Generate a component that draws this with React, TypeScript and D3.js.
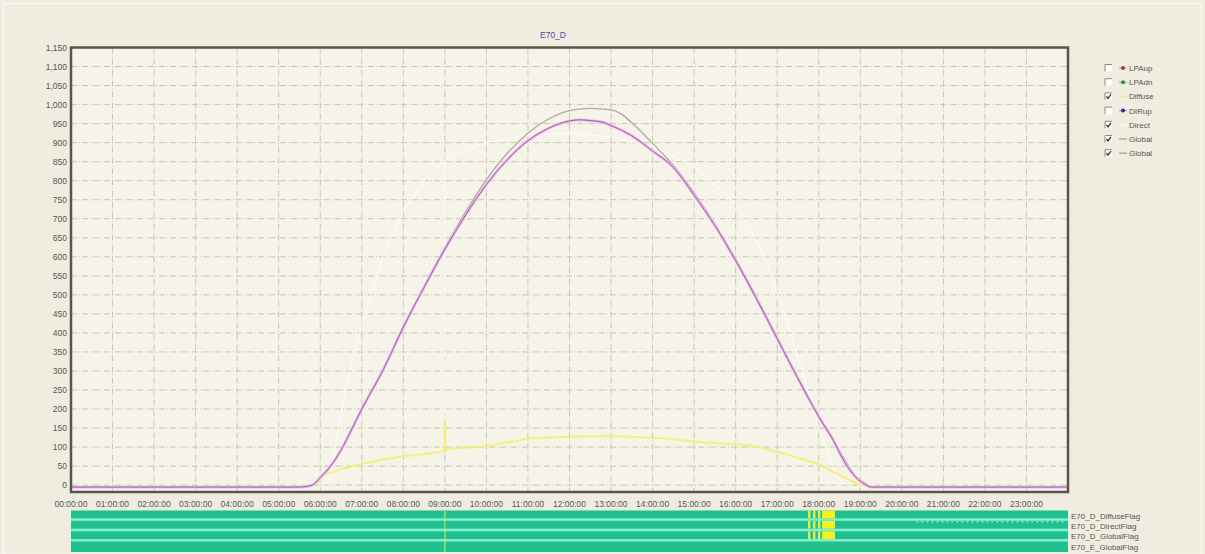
import React from "react";
import * as d3 from "d3";

const W = 1205;
const H = 554;

// y axis ticks (W/m²) and hour labels
const yTicks = [0, 50, 100, 150, 200, 250, 300, 350, 400, 450, 500, 550, 600, 650, 700, 750, 800, 850, 900, 950, 1000, 1050, 1100, 1150];
const hourLabels = [
  "00:00:00", "01:00:00", "02:00:00", "03:00:00", "04:00:00", "05:00:00", "06:00:00", "07:00:00",
  "08:00:00", "09:00:00", "10:00:00", "11:00:00", "12:00:00", "13:00:00", "14:00:00", "15:00:00",
  "16:00:00", "17:00:00", "18:00:00", "19:00:00", "20:00:00", "21:00:00", "22:00:00", "23:00:00",
];

// Global (E70_D) – purple/pink curve
const globalHours = [0, 5.5, 5.7, 5.85, 6.0, 6.25, 6.5, 6.75, 7.0, 7.5, 8.0, 8.5, 9.0, 9.5, 10.0, 10.5, 11.0, 11.5, 12.0, 12.25, 12.5, 12.75, 13.0, 13.5, 14.0, 14.5, 15.0, 15.5, 16.0, 16.5, 17.0, 17.5, 18.0, 18.35, 18.6, 18.9, 19.1, 19.25, 24];
const globalValues = [-5, -5, -3, 3, 20, 50, 92, 145, 200, 300, 415, 520, 620, 710, 790, 855, 905, 938, 957, 960, 958, 955, 945, 918, 878, 835, 762, 682, 590, 490, 385, 280, 180, 118, 65, 20, 3, -5, -5];

// Global (second sensor) – grey curve
const global2Hours = [5.85, 6.0, 6.5, 7.0, 7.5, 8.0, 8.5, 9.0, 9.5, 10.0, 10.5, 11.0, 11.5, 12.0, 12.5, 13.0, 13.25, 13.5, 14.0, 14.5, 15.0, 15.5, 16.0, 16.5, 17.0, 17.5, 18.0, 18.5, 18.9, 19.2];
const global2Values = [3, 20, 92, 200, 300, 416, 522, 624, 718, 803, 872, 925, 962, 984, 990, 986, 975, 952, 898, 840, 768, 686, 594, 494, 388, 283, 182, 90, 22, 0];

// Direct – faint white curve (with glitch at 09:00)
const directHours = [6.2, 6.6, 7.0, 7.5, 8.0, 8.5, 8.99, 9.0, 9.01, 9.5, 10.0, 11.0, 12.0, 13.0, 14.0, 15.0, 16.0, 16.7, 17.2, 17.6, 18.0, 18.4, 18.6];
const directValues = [0, 250, 420, 600, 720, 800, 852, 95, 855, 880, 900, 920, 925, 915, 890, 840, 740, 600, 440, 300, 150, 30, 0];

// Diffuse – yellow curve (with spike at 09:00)
const diffuseHours = [5.9, 6.07, 6.5, 7.03, 7.5, 8.0, 8.5, 8.88, 8.99, 9.0, 9.01, 9.2, 9.85, 10.5, 11.05, 12.0, 13.05, 14.25, 15.14, 16.35, 17.14, 17.96, 18.6, 18.9, 19.1];
const diffuseValues = [0, 26, 42, 57, 67, 76, 82, 87, 90, 175, 92, 97, 100, 112, 123, 127, 129, 123, 113, 105, 84, 57, 21, 5, 0];

// legend
const legendNames = ["LPAup", "LPAdn", "Diffuse", "DIRup", "Direct", "Global", "Global"];
const legendChecked = [false, false, true, false, true, true, true];
const legendMarkers = ["dot", "dot", "line", "dot", "line", "line", "line"];
const legendColors = ["#a83a3a", "#2f8a3c", "#eeea9a", "#2c2c86", "#fbfaf0", "#a8a8a0", "#a8a8a0"];

// flag rows
const flagNames = ["E70_D_DiffuseFlag", "E70_D_DirectFlag", "E70_D_GlobalFlag", "E70_E_GlobalFlag"];
const flagRowsYellow = [0, 1, 2];
const flagYellowStarts = [17.74, 17.86, 17.98, 18.08];
const flagYellowEnds = [17.8, 17.92, 18.04, 18.39];
const flagMarkHour = 9.0;
const directFlagDotsStart = 20.35;
const directFlagDotsEnd = 23.95;

const FONT = "'Liberation Sans', Arial, sans-serif";

export default function App() {
  const left = 71, right = 1068, top = 47.5, bottom = 492;
  const x = d3.scaleLinear().domain([0, 24]).range([left, right]);
  const y = d3.scaleLinear().domain([-18, 1150]).range([bottom, top]);
  const smooth = d3.line<[number, number]>().x(d => x(d[0])).y(d => y(d[1])).curve(d3.curveMonotoneX);
  const straight = d3.line<[number, number]>().x(d => x(d[0])).y(d => y(d[1]));
  const zip = (a: number[], b: number[]) => a.map((h, i) => [h, b[i]] as [number, number]);

  const band = d3.scaleBand().domain(flagNames).range([510.5, 552]).paddingInner(0);
  const grid = "#c9c5b2";

  return (
    <svg width={W} height={H} style={{ position: "absolute", left: 0, top: 0, fontFamily: FONT }}>
      <rect x={0} y={0} width={W} height={H} fill="#f0ede0" />
      <rect x={3.5} y={3.5} width={W - 7} height={H - 3} fill="none" stroke="#f9f8f1" strokeWidth={1.5} />

      {/* plot area */}
      <rect x={left} y={top} width={right - left} height={bottom - top} fill="#f6f4e8" />

      {/* grid */}
      {d3.range(1, 24).map(h => (
        <line key={"v" + h} x1={x(h)} x2={x(h)} y1={top} y2={bottom} stroke={grid} strokeWidth={1} strokeDasharray="6,2,1,2" />
      ))}
      {yTicks.slice(0, -1).map(v => (
        <line key={"h" + v} x1={left} x2={right} y1={y(v)} y2={y(v)} stroke={grid} strokeWidth={1} strokeDasharray="6,2,1,2" />
      ))}

      {/* title */}
      <text x={540} y={38} fontSize={8.5} fill="#4a4aa8">E70_D</text>

      {/* series */}
      <path d={straight(zip(directHours, directValues)) || ""} fill="none" stroke="#ffffff" strokeWidth={1.1} opacity={0.75} />
      <path d={straight(zip(diffuseHours, diffuseValues)) || ""} fill="none" stroke="#f3ef6a" strokeWidth={2} opacity={0.85} />
      <path d={smooth(zip(global2Hours, global2Values)) || ""} fill="none" stroke="#a9ac98" strokeWidth={1.3} />
      <path d={smooth(zip(globalHours, globalValues)) || ""} fill="none" stroke="#efb6ea" strokeWidth={2.8} />
      <path d={smooth(zip(globalHours, globalValues)) || ""} fill="none" stroke="#9c5eb0" strokeWidth={1} />

      {/* frame */}
      <rect x={left} y={top} width={right - left} height={bottom - top} fill="none" stroke="#56564c" strokeWidth={2.5} />

      {/* y labels */}
      {yTicks.map(v => (
        <text key={"yl" + v} x={67} y={y(v) + 3} fontSize={8.5} fill="#555" textAnchor="end">
          {d3.format(",")(v)}
        </text>
      ))}

      {/* x labels */}
      {hourLabels.map((l, i) => (
        <text key={"xl" + i} x={x(i)} y={507} fontSize={8.5} fill="#555" textAnchor="middle">{l}</text>
      ))}

      {/* flag rows */}
      {flagNames.map((n, i) => {
        const y0 = band(n) || 0;
        const bh = band.bandwidth();
        return (
          <g key={n}>
            <rect x={left} y={y0} width={right - left} height={bh} fill="#1fc08e" />
            {i < flagNames.length - 1 && (
              <rect x={left} y={y0 + bh - 2.6} width={right - left} height={2.6} fill="#84eecf" />
            )}
            {flagRowsYellow.includes(i) && flagYellowStarts.map((s, k) => (
              <rect key={k} x={x(s)} y={y0} width={x(flagYellowEnds[k]) - x(s)} height={bh - (i < flagNames.length - 1 ? 2.6 : 0)}
                fill={k === flagYellowStarts.length - 1 ? "#f6f11c" : "#dced52"} />
            ))}
            <text x={1071} y={y0 + bh / 2 + 3} fontSize={8} fill="#555">{n}</text>
          </g>
        );
      })}
      <line x1={x(flagMarkHour)} x2={x(flagMarkHour)} y1={band.range()[0]} y2={band.range()[1]} stroke="#d6ea62" strokeWidth={1} />
      <line x1={x(directFlagDotsStart)} x2={x(directFlagDotsEnd)} y1={(band(flagNames[1]) || 0) + 1} y2={(band(flagNames[1]) || 0) + 1}
        stroke="#bff8e4" strokeWidth={1} strokeDasharray="2,3" />

      {/* legend */}
      {legendNames.map((n, i) => {
        const ly = 68 + i * 14.2;
        return (
          <g key={"lg" + i}>
            <rect x={1105} y={ly - 3.5} width={7} height={7} fill="#ffffff" />
            <path d={`M1105,${ly + 3.5} V${ly - 3.5} H1112`} fill="none" stroke="#8a8a80" strokeWidth={1} />
            {legendChecked[i] && (
              <path d={`M1106.5,${ly} L1108,${ly + 2} L1111,${ly - 2}`} fill="none" stroke="#333" strokeWidth={1.3} />
            )}
            {legendMarkers[i] === "dot" ? (
              <g>
                <line x1={1119} x2={1127} y1={ly} y2={ly} stroke={legendColors[i]} strokeWidth={1} opacity={0.5} />
                <circle cx={1123} cy={ly} r={2} fill={legendColors[i]} />
              </g>
            ) : (
              <line x1={1119} x2={1127} y1={ly} y2={ly} stroke={legendColors[i]} strokeWidth={1.4} />
            )}
            <text x={1129} y={ly + 3} fontSize={8} fill="#555">{n}</text>
          </g>
        );
      })}
    </svg>
  );
}
